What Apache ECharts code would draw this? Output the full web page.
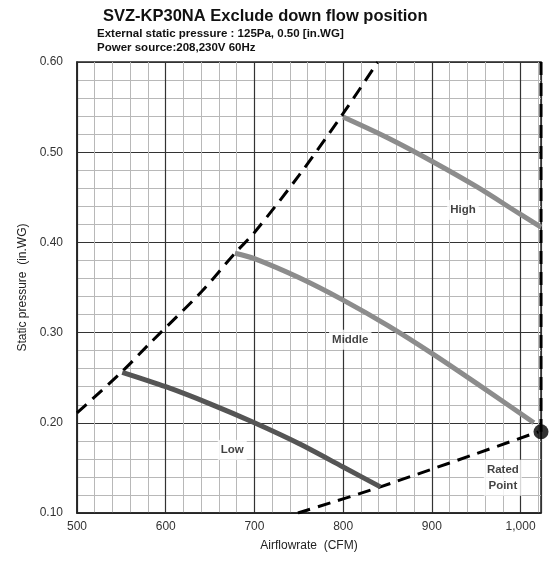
<!DOCTYPE html>
<html><head><meta charset="utf-8">
<script src="https://cdn.jsdelivr.net/npm/echarts@6/dist/echarts.min.js"></script>
<style>html,body{margin:0;padding:0;background:#fff}#c{width:549px;height:563px}</style>
</head><body><div id="c"></div>
<script>
const titleText = 'SVZ-KP30NA Exclude down flow position';
const subText1 = 'External static pressure : 125Pa, 0.50 [in.WG]';
const subText2 = 'Power source:208,230V 60Hz';
const xName = 'Airflowrate  (CFM)';
const yName = 'Static pressure  (in.WG)';

const highCurve = [[800,0.539],[850,0.516],[900,0.490],[950,0.462],[1000,0.431],[1023,0.417]];
const middleCurve = [[678,0.388],[700,0.382],[750,0.361],[800,0.336],[850,0.308],[900,0.277],[950,0.244],[1015,0.200]];
const lowCurve = [[551,0.256],[600,0.240],[650,0.221],[700,0.200],[750,0.177],[800,0.151],[842,0.129]];
const upperLimit = [[500,0.211],[550,0.256],[582,0.288],[640,0.345],[678,0.388],[700,0.411],[750,0.474],[800,0.543],[839,0.600]];
const rightLimit = [[1023,0.600],[1023,0.190]];
const lowerLimit = [[749,0.100],[842,0.129],[1020,0.190]];
const ratedPoint = [[1023,0.190]];
const curveLabels = [
  {name:'High', value:[935,0.436]},
  {name:'Middle', value:[808,0.292]},
  {name:'Low', value:[675,0.170]},
  {name:'Rated\nPoint', value:[980,0.139]}
];

const font = 'Liberation Sans, Arial, sans-serif';
const chart = echarts.init(document.getElementById('c'));
chart.setOption({
  animation:false,
  backgroundColor:'#fff',
  textStyle:{fontFamily:font},
  graphic:[
    {type:'text', left:103, top:8, style:{text:titleText, font:'bold 16.5px '+font, fill:'#111'}},
    {type:'text', left:97, top:28, style:{text:subText1, font:'bold 11.5px '+font, fill:'#111'}},
    {type:'text', left:97, top:42, style:{text:subText2, font:'bold 11.5px '+font, fill:'#111'}}
  ],
  grid:{left:77, right:8, top:62, bottom:50, show:true, borderColor:'#222', borderWidth:1.5},
  xAxis:[
    {type:'value', min:500, max:1023, interval:20, name:xName, nameLocation:'middle', nameGap:27,
     nameTextStyle:{fontSize:12, color:'#222', fontFamily:font},
     axisLine:{show:true, lineStyle:{color:'#222', width:1.5}}, axisTick:{show:false},
     axisLabel:{fontSize:12, color:'#333', margin:8, fontFamily:font, showMaxLabel:false,
       formatter:v=>{const r=Math.round(v); return r%100===0 ? r.toLocaleString('en-US') : '';}},
     splitLine:{show:true, lineStyle:{color:'#b8b8b8', width:1}}},
    {type:'value', min:500, max:1023, interval:100, position:'bottom',
     axisLine:{show:false}, axisTick:{show:false}, axisLabel:{show:false},
     splitLine:{show:true, lineStyle:{color:'#333', width:1.2}}}
  ],
  yAxis:{type:'value', min:0.1, max:0.6, interval:0.1, name:yName, nameLocation:'middle', nameGap:48,
     nameTextStyle:{fontSize:12, color:'#222', fontFamily:font},
     axisLine:{show:true, lineStyle:{color:'#222', width:1.5}}, axisTick:{show:false},
     axisLabel:{fontSize:12, color:'#333', margin:14, fontFamily:font, formatter:v=>v.toFixed(2)},
     splitLine:{show:true, lineStyle:{color:'#333', width:1.2}},
     minorTick:{show:false, splitNumber:5},
     minorSplitLine:{show:true, lineStyle:{color:'#b8b8b8', width:1}}},
  series:[
    {type:'line', data:upperLimit, smooth:0.3, symbol:'none', lineStyle:{color:'#000', width:3, type:[13,8]}, z:3},
    {type:'line', data:rightLimit, symbol:'none', lineStyle:{color:'#000', width:3, type:[13,8]}, z:3},
    {type:'line', data:lowerLimit, smooth:0.3, symbol:'none', lineStyle:{color:'#000', width:3, type:[13,8]}, z:3},
    {type:'line', data:highCurve, smooth:0.3, symbol:'none', lineStyle:{color:'#8c8c8c', width:5}, z:4},
    {type:'line', data:middleCurve, smooth:0.3, symbol:'none', lineStyle:{color:'#8c8c8c', width:5}, z:4},
    {type:'line', data:lowCurve, smooth:0.3, symbol:'none', lineStyle:{color:'#555', width:5}, z:4},
    {type:'scatter', data:ratedPoint, symbol:'circle', symbolSize:15, itemStyle:{color:'#000'}, z:6},
    {type:'scatter', data:curveLabels, symbolSize:0, z:7,
     label:{show:true, position:'inside', formatter:p=>p.name, fontWeight:'bold', fontSize:11.5,
       color:'#111', backgroundColor:'#fff', padding:[2,3], lineHeight:16, fontFamily:font}}
  ]
});
</script></body></html>
